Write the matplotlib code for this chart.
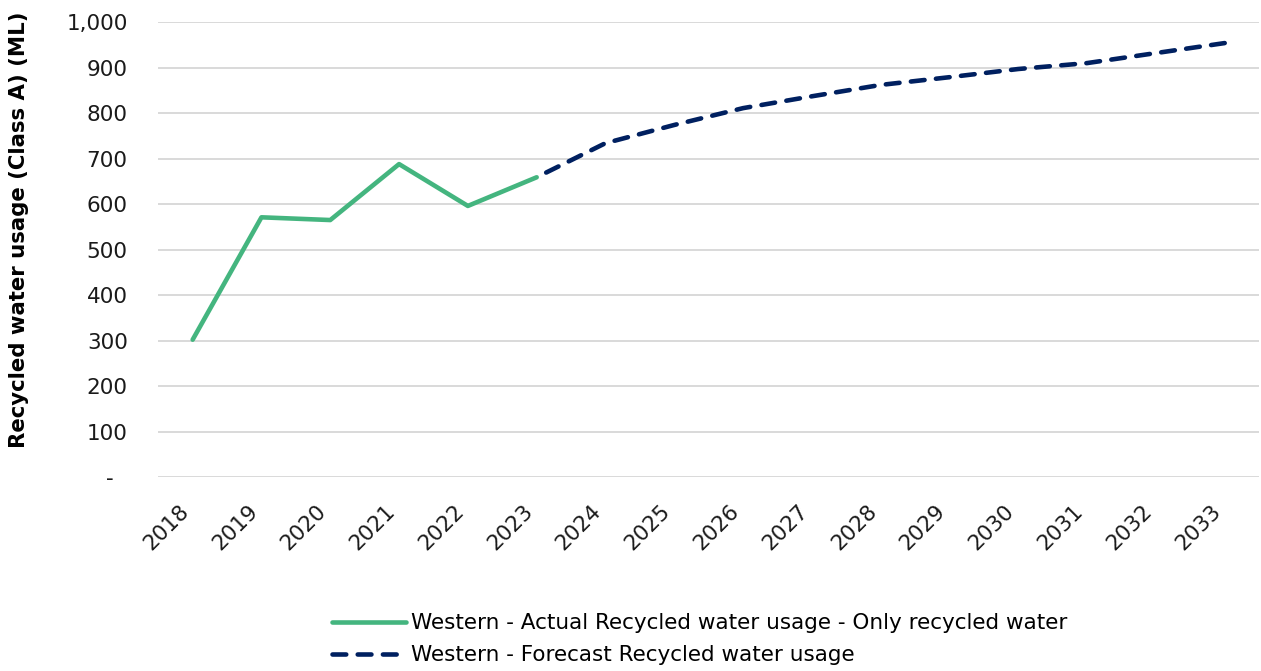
import numpy as np
import matplotlib.pyplot as plt
from matplotlib.ticker import FuncFormatter

# annual recycled water usage, Class A (ML)
years = [str(y) for y in range(2018, 2034)]
actual_years = years[:6]
actual = [302, 571, 565, 688, 596, 659]
forecast_years = years[5:]
forecast = [659, 734, 774, 811, 837, 862, 879, 897, 910, 932, 954]

plt.rcParams['font.family'] = ['DejaVu Sans']
FS = 15.5

fig = plt.figure(figsize=(12.61, 6.71), dpi=100)
ax = fig.add_axes([0.1255, 0.289, 0.873, 0.678])

xpos = {y: i for i, y in enumerate(years)}
ax.plot([xpos[y] for y in actual_years], actual, color='#44B57F', lw=3.3,
        solid_capstyle='round', solid_joinstyle='round',
        label='Western - Actual Recycled water usage - Only recycled water', zorder=3)
# drawn from the far end so the last dash sits on 2033
fx = [xpos[y] for y in forecast_years][::-1]
ax.plot(fx, forecast[::-1], color='#002060', lw=3.3,
        linestyle=(0, (3.0, 2.5)), dash_capstyle='round',
        label='Western - Forecast Recycled water usage', zorder=3)

ax.set_xlim(-0.5, len(years) - 0.5)
ax.set_ylim(0, 1000)
ax.set_yticks(np.arange(0, 1001, 100))
ax.yaxis.set_major_formatter(FuncFormatter(lambda v, p: '-  ' if v == 0 else f'{int(v):,}'))
ax.set_xticks(range(len(years)))
ax.set_xticklabels(years, rotation=45, ha='right')

ax.grid(axis='y', color='#D9D9D9', lw=1.4)
ax.set_axisbelow(True)
for s in ax.spines.values():
    s.set_visible(False)
ax.tick_params(axis='both', length=0, labelsize=FS, colors='#1a1a1a')
ax.tick_params(axis='y', pad=22)
ax.tick_params(axis='x', pad=17)

ax.set_ylabel('Recycled water usage (Class A) (ML)', fontsize=15.3, fontweight='bold')
ax.yaxis.set_label_coords(-0.117, 0.543)

fig.legend(loc='lower center', bbox_to_anchor=(0.555, -0.02), ncol=1, frameon=False,
           fontsize=FS, handlelength=3.4, handletextpad=0.25, labelspacing=0.55)

fig.savefig('out.png', dpi=100)
